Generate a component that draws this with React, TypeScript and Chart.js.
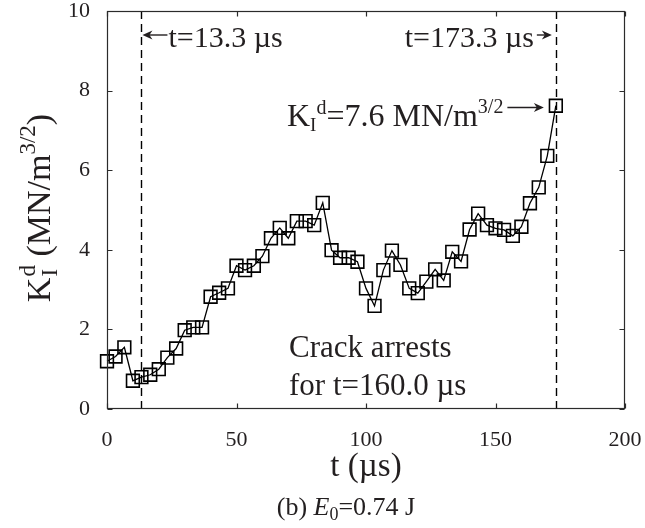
import { useEffect, useRef } from 'react';
import { Chart, registerables } from 'chart.js';

Chart.register(...registerables);

// ---- data ----
const times = [
  0, 3.3, 6.7, 10, 13.3, 16.7, 20, 23.3, 26.7, 30, 33.3, 36.7, 40, 43.3, 46.7, 50, 53.3, 56.7,
  60, 63.3, 66.7, 70, 73.3, 76.7, 80, 83.3, 86.7, 90, 93.3, 96.7, 100, 103.3, 106.7, 110, 113.3,
  116.7, 120, 123.3, 126.7, 130, 133.3, 136.7, 140, 143.3, 146.7, 150, 153.3, 156.7, 160, 163.3,
  166.7, 170, 173.3,
];
const kValues = [
  1.2, 1.32, 1.55, 0.71, 0.8, 0.86, 1.0, 1.29, 1.52, 1.98, 2.05, 2.05, 2.82, 2.92, 3.03, 3.6, 3.49,
  3.6, 3.84, 4.29, 4.55, 4.29, 4.72, 4.72, 4.62, 5.18, 3.99, 3.8, 3.8, 3.7, 3.03, 2.59, 3.49, 3.98,
  3.62, 3.03, 2.91, 3.2, 3.51, 3.23, 3.95, 3.71, 4.51, 4.91, 4.62, 4.54, 4.5, 4.35, 4.58, 5.17,
  5.57, 6.36, 7.62,
];
const xTicks = [0, 50, 100, 150, 200];
const yTicks = [0, 2, 4, 6, 8, 10];
const startTime = 13.3;
const arrestTime = 173.3;
const peakK = 7.6;

const FONT = '"Liberation Serif", "Times New Roman", serif';
const TEXT = '#231f20';

type Seg = { t: string; size: number; dy?: number; italic?: boolean; under?: string; underDy?: number; dx?: number };

function fontOf(size: number, italic?: boolean) {
  return `${italic ? 'italic ' : ''}${size}px ${FONT}`;
}

function segWidth(ctx: CanvasRenderingContext2D, s: Seg) {
  ctx.font = fontOf(s.size, s.italic);
  let w = ctx.measureText(s.t).width;
  if (s.under) w = Math.max(w, ctx.measureText(s.under).width);
  return w + (s.dx || 0);
}

function drawRich(ctx: CanvasRenderingContext2D, segs: Seg[], x: number, y: number, align: 'left' | 'center' | 'right') {
  let total = 0;
  for (const s of segs) total += segWidth(ctx, s);
  let cx = align === 'left' ? x : align === 'center' ? x - total / 2 : x - total;
  ctx.textAlign = 'left';
  ctx.textBaseline = 'alphabetic';
  for (const s of segs) {
    ctx.font = fontOf(s.size, s.italic);
    cx += s.dx || 0;
    ctx.fillText(s.t, cx, y + (s.dy || 0));
    if (s.under) ctx.fillText(s.under, cx, y + (s.underDy || 0));
    cx += segWidth(ctx, s) - (s.dx || 0);
  }
  return cx;
}

function drawArrow(ctx: CanvasRenderingContext2D, x1: number, y: number, x2: number) {
  const dir = x2 > x1 ? 1 : -1;
  ctx.beginPath();
  ctx.moveTo(x1, y);
  ctx.lineTo(x2 - dir * 4, y);
  ctx.lineWidth = 1.4;
  ctx.stroke();
  ctx.beginPath();
  ctx.moveTo(x2, y);
  ctx.lineTo(x2 - dir * 10, y - 4.5);
  ctx.lineTo(x2 - dir * 7, y);
  ctx.lineTo(x2 - dir * 10, y + 4.5);
  ctx.closePath();
  ctx.fill();
}

const decorPlugin = {
  id: 'decor',
  afterDatasetsDraw(chart: any) {
    const { ctx, chartArea: a, scales } = chart;
    const xs = scales.x;
    const ys = scales.y;
    ctx.save();

    // dashed lines
    ctx.strokeStyle = '#000';
    ctx.lineWidth = 1.4;
    ctx.setLineDash([8, 5]);
    for (const t of [startTime, arrestTime]) {
      const px = Math.round(xs.getPixelForValue(t)) + 0.5;
      ctx.beginPath();
      ctx.moveTo(px, a.top);
      ctx.lineTo(px, a.bottom);
      ctx.stroke();
    }
    ctx.setLineDash([]);

    // frame + inward ticks
    ctx.strokeStyle = '#2b2b2b';
    ctx.lineWidth = 1.2;
    const L = Math.round(a.left) + 0.5;
    const R = Math.round(a.right) - 0.5;
    const T = Math.round(a.top) + 0.5;
    const B = Math.round(a.bottom) - 0.5;
    ctx.strokeRect(L, T, R - L, B - T);
    ctx.beginPath();
    for (const v of xTicks) {
      const px = Math.round(xs.getPixelForValue(v)) + 0.5;
      ctx.moveTo(px, B); ctx.lineTo(px, B - 5);
      ctx.moveTo(px, T); ctx.lineTo(px, T + 5);
    }
    for (const v of yTicks) {
      const py = Math.round(ys.getPixelForValue(v)) + 0.5;
      ctx.moveTo(L, py); ctx.lineTo(L + 5, py);
      ctx.moveTo(R, py); ctx.lineTo(R - 5, py);
    }
    ctx.stroke();

    // annotations
    ctx.fillStyle = TEXT;
    ctx.strokeStyle = TEXT;
    const xStart = xs.getPixelForValue(startTime);
    const xArrest = xs.getPixelForValue(arrestTime);
    const topBase = a.top + 36;
    const arrowY = a.top + 24;
    drawArrow(ctx, xStart + 26, arrowY, xStart + 1);
    drawRich(ctx, [{ t: 't=13.3 µs', size: 30 }], xStart + 27, topBase, 'left');

    drawArrow(ctx, xArrest - 19, arrowY, xArrest - 4);
    drawRich(ctx, [{ t: 't=173.3 µs', size: 30 }], xArrest - 22, topBase, 'right');

    const peakY = ys.getPixelForValue(peakK);
    const end = drawRich(
      ctx,
      [
        { t: 'K', size: 32 },
        { t: 'I', size: 19, dy: 5 },
        { t: 'd', size: 20, dy: -12 },
        { t: '=7.6 MN/m', size: 32 },
        { t: '3/2', size: 20, dy: -13 },
      ],
      a.left + 180,
      peakY + 19,
      'left'
    );
    drawArrow(ctx, end + 4, peakY + 1, xArrest - 12);

    drawRich(ctx, [{ t: 'Crack arrests', size: 31 }], a.left + 182, a.top + 346, 'left');
    drawRich(ctx, [{ t: 'for t=160.0 µs', size: 31 }], a.left + 182, a.top + 384, 'left');

    // axis titles
    const midX = (a.left + a.right) / 2;
    drawRich(ctx, [{ t: 't (µs)', size: 33 }], midX, a.bottom + 67, 'center');
    drawRich(
      ctx,
      [
        { t: '(b) ', size: 26 },
        { t: 'E', size: 26, italic: true },
        { t: '0', size: 18, dy: 5 },
        { t: '=0.74 J', size: 26 },
      ],
      midX - 20,
      a.bottom + 106,
      'center'
    );

    ctx.save();
    ctx.translate(50, (a.top + a.bottom) / 2 - 2);
    ctx.rotate(-Math.PI / 2);
    drawRich(
      ctx,
      [
        { t: 'K', size: 34 },
        { t: 'd', size: 23, dy: -15, under: 'I', underDy: 7, dx: 1 },
        { t: ' (MN/m', size: 34 },
        { t: '3/2', size: 23, dy: -15 },
        { t: ')', size: 34 },
      ],
      0,
      0,
      'center'
    );
    ctx.restore();

    ctx.restore();
  },
};

function zeroPadding(s: any) {
  s.paddingTop = 0;
  s.paddingBottom = 0;
  s.paddingLeft = 0;
  s.paddingRight = 0;
}

export default function App() {
  const ref = useRef<HTMLCanvasElement | null>(null);

  useEffect(() => {
    if (!ref.current) return;
    const chart = new Chart(ref.current, {
      type: 'line',
      data: {
        datasets: [
          {
            data: times.map((t, i) => ({ x: t, y: kValues[i] })),
            borderColor: '#000',
            borderWidth: 1.3,
            pointStyle: 'rect',
            pointRadius: 9,
            pointHoverRadius: 9,
            pointBorderWidth: 1.6,
            pointBorderColor: '#000',
            pointBackgroundColor: 'rgba(0,0,0,0)',
            tension: 0,
            clip: false as any,
          },
        ],
      },
      options: {
        responsive: false,
        animation: false,
        devicePixelRatio: 1,
        layout: { padding: { top: 11, right: 20, left: 0, bottom: 0 } },
        plugins: { legend: { display: false }, tooltip: { enabled: false } },
        events: [],
        scales: {
          x: {
            type: 'linear',
            min: 0,
            max: 200,
            grid: { display: false },
            border: { display: false },
            afterBuildTicks: (s: any) => {
              s.ticks = xTicks.map((v) => ({ value: v }));
            },
            afterFit: (s: any) => {
              s.height = 119;
              zeroPadding(s);
            },
            ticks: {
              color: TEXT,
              padding: 10,
              maxRotation: 0,
              font: { family: FONT, size: 22 },
            },
          },
          y: {
            type: 'linear',
            min: 0,
            max: 10,
            grid: { display: false },
            border: { display: false },
            afterBuildTicks: (s: any) => {
              s.ticks = yTicks.map((v) => ({ value: v }));
            },
            afterFit: (s: any) => {
              s.width = 107;
              zeroPadding(s);
            },
            ticks: {
              color: TEXT,
              padding: 9,
              font: { family: FONT, size: 22 },
            },
          },
        },
      },
      plugins: [decorPlugin],
    });
    return () => chart.destroy();
  }, []);

  return (
    <div style={{ position: 'absolute', left: 0, top: 0, width: 645, height: 528, background: '#fff' }}>
      <canvas ref={ref} width={645} height={528} style={{ display: 'block' }} />
    </div>
  );
}
